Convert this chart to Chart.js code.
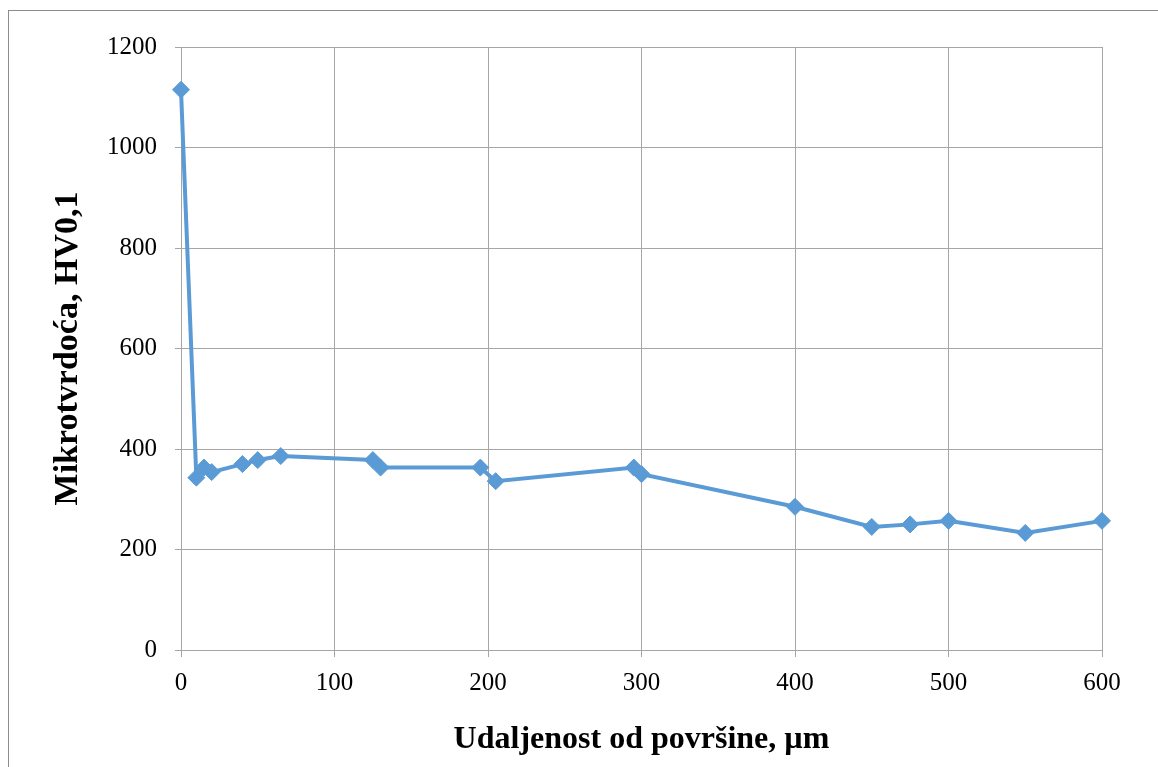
<!DOCTYPE html>
<html>
<head>
<meta charset="utf-8">
<script src="https://cdn.jsdelivr.net/npm/chart.js@4/dist/chart.umd.min.js"></script>
<style>
  html, body { margin: 0; padding: 0; background: #fff; overflow: hidden; }
  #frame {
    position: absolute; left: 8px; top: 10px; width: 2000px; height: 2000px;
    border-left: 1px solid #8c8c8c; border-top: 1px solid #8c8c8c;
  }
  #wrap { position: absolute; left: 0; top: 0; width: 1158px; height: 767px; }
</style>
</head>
<body>
<div id="frame"></div>
<div id="wrap"><canvas id="hardnessChart"></canvas></div>
<script>
// Udaljenost od površine (µm) et mikrotvrdoća (HV0,1)
const distances = [0, 10, 15, 20, 40, 50, 65, 125, 130, 195, 205, 295, 300, 400, 450, 475, 500, 550, 600];
const hardness  = [1115, 343, 363, 354, 370, 378, 386, 378, 363, 363, 336, 363, 350, 285, 245, 250, 257, 233, 257];

const xTicks = [0, 100, 200, 300, 400, 500, 600];
const yTicks = [0, 200, 400, 600, 800, 1000, 1200];

const xTitle = 'Udaljenost od površine, µm';
const yTitle = 'Mikrotvrdoća, HV0,1';

const GRID = '#a6a6a6';
const BLUE = '#5b9bd5';
const FONT = "'Liberation Serif', 'Times New Roman', serif";

document.addEventListener('DOMContentLoaded', () => {
    const points = distances.map((d, i) => ({ x: d, y: hardness[i] }));

    const ctx = document.getElementById('hardnessChart').getContext('2d');
    new Chart(ctx, {
        type: 'line',
        data: {
            datasets: [{
                data: points,
                borderColor: BLUE,
                backgroundColor: BLUE,
                borderWidth: 4,
                pointStyle: 'rectRot',
                pointRadius: 8.5,
                pointBorderWidth: 1,
                pointBorderColor: BLUE,
                pointBackgroundColor: BLUE,
                tension: 0,
                fill: false,
                clip: false
            }]
        },
        options: {
            responsive: true,
            maintainAspectRatio: false,
            animation: false,
            layout: { padding: { left: 0, right: 56, top: 47, bottom: 0 } },
            plugins: {
                legend: { display: false },
                tooltip: { enabled: false }
            },
            scales: {
                x: {
                    type: 'linear',
                    min: 0,
                    max: 600,
                    afterBuildTicks: scale => { scale.ticks = xTicks.map(v => ({ value: v })); },
                    afterFit: scale => { scale.height = 117; },
                    ticks: {
                        color: '#000',
                        font: { family: FONT, size: 25 },
                        padding: 11,
                        maxRotation: 0,
                        autoSkip: false,
                        callback: v => String(v)
                    },
                    grid: { color: GRID, lineWidth: 1, tickLength: 7 },
                    border: { color: GRID, width: 1 },
                    title: {
                        display: true,
                        text: xTitle,
                        color: '#000',
                        font: { family: FONT, size: 32, weight: 'bold' },
                        padding: { top: 0, bottom: 8 }
                    }
                },
                y: {
                    type: 'linear',
                    min: 0,
                    max: 1200,
                    afterBuildTicks: scale => { scale.ticks = yTicks.map(v => ({ value: v })); },
                    afterFit: scale => { scale.width = 181; },
                    ticks: {
                        color: '#000',
                        font: { family: FONT, size: 25 },
                        padding: 18,
                        autoSkip: false,
                        callback: v => String(v)
                    },
                    grid: { color: GRID, lineWidth: 1, tickLength: 6 },
                    border: { color: GRID, width: 1 },
                    title: {
                        display: true,
                        text: yTitle,
                        color: '#000',
                        font: { family: FONT, size: 34, weight: 'bold' },
                        padding: { top: 48, bottom: 0 }
                    }
                }
            }
        }
    });
});
</script>
</body>
</html>
